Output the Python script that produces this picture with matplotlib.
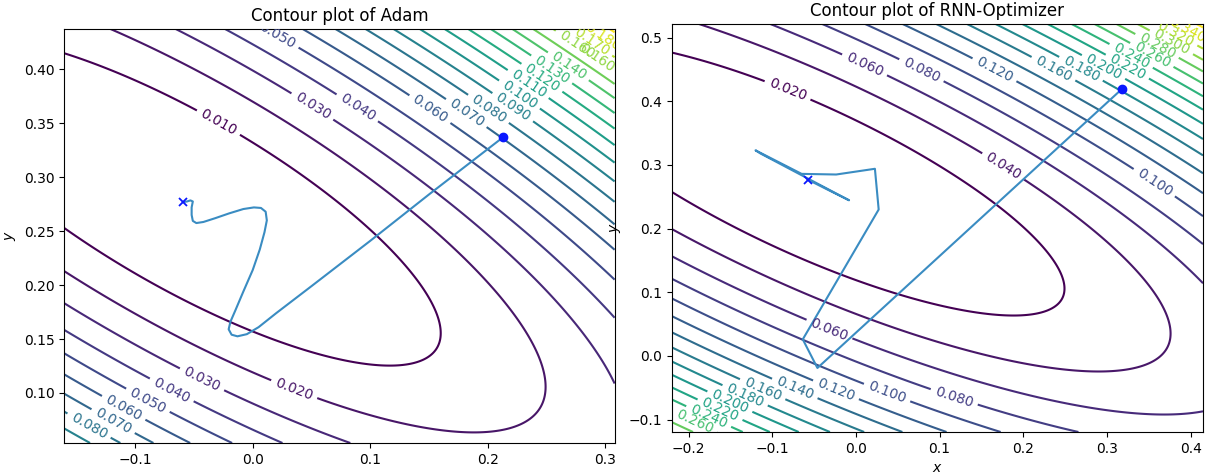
import numpy as np
import matplotlib
matplotlib.use("Agg")
import matplotlib.pyplot as plt

# ---- data -------------------------------------------------------------------
# contour labels seen in the left panel (level, x, y of label centre)
adam_label_levels = [0.01, 0.03, 0.04, 0.05, 0.06, 0.07, 0.08, 0.09, 0.10, 0.11, 0.12,
                     0.13, 0.14, 0.15, 0.16, 0.17, 0.18,
                     0.02, 0.03, 0.04, 0.05, 0.06, 0.07, 0.08]
adam_label_x = [-0.029, 0.051, 0.090, 0.020, 0.152, 0.1815, 0.2017, 0.222, 0.226, 0.233,
                0.246, 0.2545, 0.270, 0.273, 0.290, 0.290, 0.300,
                0.036, -0.043, -0.070, -0.090, -0.111, -0.120, -0.140]
adam_label_y = [0.351, 0.366, 0.366, 0.430, 0.365, 0.359, 0.365, 0.366, 0.375, 0.384,
                0.392, 0.400, 0.405, 0.419, 0.416, 0.428, 0.434,
                0.1055, 0.113, 0.1006, 0.0916, 0.0839, 0.0715, 0.0684]

# contour labels seen in the right panel
rnn_label_levels = [0.02, 0.06, 0.08, 0.12, 0.16, 0.18, 0.20, 0.22, 0.24, 0.26, 0.28,
                    0.30, 0.32, 0.34, 0.10, 0.04,
                    0.06, 0.08, 0.10, 0.12, 0.14, 0.16, 0.18, 0.20, 0.22, 0.24, 0.26]
rnn_label_x = [-0.081, 0.009, 0.078, 0.165, 0.236, 0.271, 0.298, 0.325, 0.330, 0.352,
               0.359, 0.377, 0.382, 0.395, 0.357, 0.173,
               -0.032, 0.117, 0.037, -0.023, -0.072, -0.110, -0.133, -0.150, -0.1615,
               -0.175, -0.192]
rnn_label_y = [0.4195, 0.4535, 0.448, 0.448, 0.451, 0.456, 0.459, 0.456, 0.474, 0.469,
               0.485, 0.4927, 0.506, 0.509, 0.273, 0.2915,
               0.0408, -0.0664, -0.0585, -0.0507, -0.048, -0.048, -0.0637, -0.070,
               -0.082, -0.0925, -0.101]

# further points lying on contour lines (extremes of ellipses, edge crossings)
extra_levels = [0.01, 0.01, 0.02, 0.02, 0.02, 0.04, 0.04,
                0.01, 0.01, 0.02, 0.03, 0.04, 0.05, 0.06, 0.07, 0.08, 0.09,
                0.02, 0.02]
extra_x = [0.115, 0.157, 0.190, 0.250, 0.251, 0.375, 0.300,
           -0.160, -0.160, -0.160, -0.160, -0.160, -0.160, -0.160, -0.160, -0.160, -0.160,
           -0.2204, -0.2204]
extra_y = [0.125, 0.150, 0.062, 0.100, 0.109, 0.0306, -0.026,
           0.2493, 0.4138, 0.2137, 0.1843, 0.159, 0.137, 0.1175, 0.100, 0.0826, 0.067,
           0.477, 0.263]

adam_levels = [0.01, 0.02, 0.03, 0.04, 0.05, 0.06, 0.07, 0.08, 0.09, 0.10, 0.11,
               0.12, 0.13, 0.14, 0.15, 0.16, 0.17, 0.18, 0.19, 0.20, 0.21, 0.22]
rnn_levels = [0.02, 0.04, 0.06, 0.08, 0.10, 0.12, 0.14, 0.16, 0.18, 0.20,
              0.22, 0.24, 0.26, 0.28, 0.30, 0.32, 0.34, 0.36, 0.38, 0.40, 0.42]

adam_x = [0.213, 0.150, 0.100, 0.050, 0.020, 0.005, -0.005, -0.013, -0.018, -0.0205,
          -0.019, -0.015, -0.008, 0.000, 0.006, 0.010, 0.012, 0.011, 0.007, 0.001,
          -0.008, -0.020, -0.032, -0.042, -0.048, -0.051, -0.052, -0.052, -0.051,
          -0.053, -0.056, -0.059]
adam_y = [0.337, 0.284, 0.241, 0.199, 0.174, 0.161, 0.1545, 0.1525, 0.154, 0.159,
          0.166, 0.176, 0.194, 0.214, 0.233, 0.249, 0.260, 0.268, 0.2715, 0.272,
          0.2705, 0.2665, 0.262, 0.2585, 0.2575, 0.2595, 0.265, 0.272, 0.2775,
          0.2785, 0.2775, 0.277]

rnn_x = [0.318, -0.046, -0.0635, 0.0272, 0.0227, -0.0236, -0.0649, -0.120, -0.114,
         -0.0082, -0.035, -0.0576]
rnn_y = [0.4195, -0.019, 0.026, 0.230, 0.294, 0.285, 0.286, 0.323, 0.318,
         0.2445, 0.262, 0.277]

adam_xlim = (-0.1603, 0.308)
adam_ylim = (0.0536, 0.4374)
rnn_xlim = (-0.2204, 0.4148)
rnn_ylim = (-0.1196, 0.5215)

traj_color = "#3a8cc2"

# ---- fit the quadratic surface through the observed contour points ----------
Lv = np.array(adam_label_levels + rnn_label_levels + extra_levels)
Px = np.array(adam_label_x + rnn_label_x + extra_x)
Py = np.array(adam_label_y + rnn_label_y + extra_y)


def features(x, y):
    return np.stack([x ** 2, 2 * x * y, y ** 2, x, y, np.ones_like(x)], axis=-1)


A = features(Px, Py) / Lv[:, None]
coef, *_ = np.linalg.lstsq(A, np.ones_like(Lv), rcond=None)


def loss(X, Y):
    return features(X, Y) @ coef


fig = plt.figure(figsize=(12.05, 4.73), dpi=100)
ax1 = fig.add_axes([64.4 / 1205, 1 - 443 / 473, (614.6 - 64.4) / 1205, (443 - 29) / 473])
ax2 = fig.add_axes([671.5 / 1205, 1 - 432 / 473, (1203 - 671.5) / 1205, (432 - 24) / 473])


def draw(ax, xlim, ylim, levels, lx, ly, tx, ty, title, xlabel):
    gx = np.linspace(xlim[0], xlim[1], 400)
    gy = np.linspace(ylim[0], ylim[1], 400)
    X, Y = np.meshgrid(gx, gy)
    Z = loss(X, Y)
    lev = [v for v in levels if Z.min() < v < Z.max()]
    cs = ax.contour(X, Y, Z, levels=lev, cmap="viridis", linewidths=1.5)
    ax.set_xlim(*xlim)
    ax.set_ylim(*ylim)
    ax.clabel(cs, inline=True, fontsize=10, fmt="%1.3f", manual=list(zip(lx, ly)))
    ax.plot(tx, ty, color=traj_color, lw=1.5)
    ax.plot(tx[0], ty[0], "o", color="#0a18ff", ms=6)
    ax.plot(tx[-1], ty[-1], "x", color="#0a18ff", ms=5.5, mew=1.3)
    ax.set_title(title, fontsize=12)
    ax.set_ylabel("$y$")
    if xlabel:
        ax.set_xlabel("$x$")


draw(ax1, adam_xlim, adam_ylim, adam_levels, adam_label_x, adam_label_y, adam_x, adam_y,
     "Contour plot of Adam", False)
draw(ax2, rnn_xlim, rnn_ylim, rnn_levels, rnn_label_x, rnn_label_y, rnn_x, rnn_y,
     "Contour plot of RNN-Optimizer", True)
ax1.set_xticks([-0.1, 0.0, 0.1, 0.2, 0.3])
ax1.set_yticks([0.10, 0.15, 0.20, 0.25, 0.30, 0.35, 0.40])
ax2.set_xticks([-0.2, -0.1, 0.0, 0.1, 0.2, 0.3, 0.4])
ax2.set_yticks([-0.1, 0.0, 0.1, 0.2, 0.3, 0.4, 0.5])

fig.savefig("out.png", dpi=100)
